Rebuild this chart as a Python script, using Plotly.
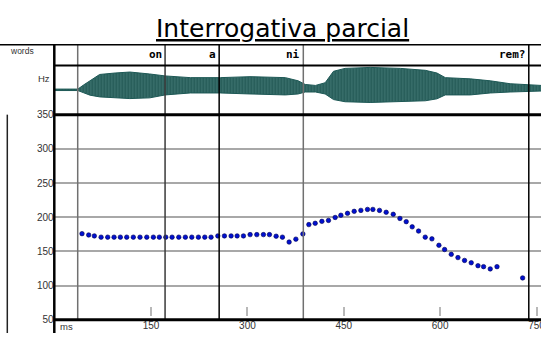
import plotly.graph_objects as go

W, H = 541, 338

# ---------------- data ----------------
pitch_ms = [42.5, 52.9, 61.7, 72.2, 82.5, 92.4, 102.2, 112.1, 122.4, 132.8, 143.3, 153.6,
            162.9, 172.9, 182.7, 193.1, 203.4, 213.4, 223.7, 233.6, 243.4, 253.9, 264.2,
            274.6, 284.0, 293.8, 304.2, 314.6, 324.9, 334.3, 344.7, 354.5, 364.9, 375.4,
            386.3, 395.6, 405.5, 415.9, 426.2, 436.6, 445.5, 455.8, 466.2, 476.6, 486.9,
            495.3, 505.6, 516.0, 527.0, 537.4, 547.2, 556.5, 566.4, 576.8, 587.2, 598.1,
            606.9, 617.3, 627.7, 638.0, 648.4, 658.9, 667.6, 678.0, 688.5, 728.4]
pitch_hz = [176.0, 174.1, 172.7, 170.9, 170.9, 170.9, 170.9, 170.9, 170.9, 170.9, 170.9,
            170.9, 170.9, 170.9, 170.9, 170.9, 170.9, 170.9, 170.9, 170.9, 170.9, 172.7,
            172.7, 172.7, 172.7, 172.7, 174.6, 174.6, 174.6, 174.6, 172.3, 170.9, 163.7,
            168.0, 175.6, 189.3, 191.2, 194.0, 195.4, 199.7, 203.0, 205.8, 208.7, 210.1,
            211.5, 211.5, 210.1, 207.3, 204.4, 198.3, 193.6, 186.0, 179.8, 170.9, 168.4,
            159.0, 152.8, 145.7, 141.0, 136.8, 133.4, 129.1, 127.7, 124.4, 127.7, 111.2]

# waveform envelope (normalised amplitude)
wave_ms = [0, 36, 45, 55, 70, 94, 117, 148, 172, 211, 258, 304, 359, 379, 390, 406, 421,
           434, 452, 491, 538, 577, 595, 608, 647, 678, 709, 757]
wave_up = [0.03, 0.03, 0.20, 0.37, 0.63, 0.69, 0.73, 0.65, 0.57, 0.50, 0.50, 0.54, 0.50,
           0.37, 0.22, 0.18, 0.29, 0.76, 0.88, 0.92, 0.88, 0.80, 0.69, 0.50, 0.45, 0.37,
           0.25, 0.18]
wave_lo = [-0.03, -0.03, -0.12, -0.22, -0.29, -0.33, -0.36, -0.33, -0.21, -0.13, -0.13,
           -0.17, -0.21, -0.17, -0.09, -0.09, -0.17, -0.40, -0.49, -0.52, -0.49, -0.45,
           -0.37, -0.21, -0.21, -0.13, -0.09, -0.05]

boundaries = [35.8, 171.8, 256.0, 387.0, 738.0]
boundary_colors = ["#707070", "#3a3a3a", "#000000", "#707070", "#000000"]
words = ["on", "a", "ni", "rem?"]

x_ticks = [150, 300, 450, 600, 750]
x_tick_labels = ["150", "300", "450", "600", "750"]
y_ticks = [50, 100, 150, 200, 250, 300, 350]

title = "Interrogativa parcial"


def px(x):
    return x / W


def py(y):
    return (H - y) / H


fig = go.Figure()

# waveform
fig.add_trace(go.Scatter(x=wave_ms, y=wave_lo, xaxis="x", yaxis="y2", mode="lines",
                         line=dict(width=1, color="#1d5855"), showlegend=False,
                         hoverinfo="skip"))
fig.add_trace(go.Scatter(x=wave_ms, y=wave_up, xaxis="x", yaxis="y2", mode="lines",
                         line=dict(width=1, color="#1d5855"), fill="tonexty",
                         fillcolor="#0f4f4c",
                         fillpattern=dict(shape="|", fgcolor="#063a37", bgcolor="#417874",
                                          size=3, solidity=0.6),
                         showlegend=False, hoverinfo="skip"))

# pitch points
fig.add_trace(go.Scatter(x=pitch_ms, y=pitch_hz, xaxis="x", yaxis="y", mode="markers",
                         marker=dict(size=4.5, color="#0010d0",
                                     line=dict(width=0.6, color="#000050")),
                         showlegend=False, hoverinfo="skip"))

# x tick labels as clipped text (last label is cut by the right edge)
fig.add_trace(go.Scatter(x=x_ticks, y=[0] * len(x_ticks), xaxis="x", yaxis="y3",
                         mode="text", text=x_tick_labels, cliponaxis=True,
                         textfont=dict(family="Liberation Sans", size=10, color="#333"),
                         textposition="middle center", showlegend=False,
                         hoverinfo="skip"))

# dummy for tick-mark overlay axis
fig.add_trace(go.Scatter(x=[None], y=[None], xaxis="x2", yaxis="y", showlegend=False,
                         hoverinfo="skip"))

shapes = []
# segment boundaries
for b, c in zip(boundaries, boundary_colors):
    shapes.append(dict(type="line", xref="x", yref="paper", x0=b, x1=b,
                       y0=py(324), y1=py(41), line=dict(color=c, width=1.5), layer="above"))

# frame lines
frame = [
    (0, 41, W, 41, 1.5, "#000"),
    (54, 62.3, W, 62.3, 2, "#000"),
    (54, 113.2, W, 113.2, 3, "#000"),
    (54, 324.3, W, 324.3, 3, "#000"),
    (54.3, 41, 54.3, H, 2.5, "#000"),
    (7.3, 113, 7.3, H, 1.5, "#222"),
]
for x0, y0, x1, y1, w, c in frame:
    shapes.append(dict(type="line", xref="paper", yref="paper", x0=px(x0), x1=px(x1),
                       y0=py(y0), y1=py(y1), line=dict(color=c, width=w), layer="above"))

annotations = []
for i, wd in enumerate(words):
    annotations.append(dict(text="<b>" + wd + "</b>", xref="x", yref="paper",
                            x=boundaries[i + 1] - 1.5, y=py(51.5), xanchor="right",
                            yanchor="middle", showarrow=False,
                            font=dict(family="DejaVu Sans Mono", size=11, color="#000")))

annotations += [
    dict(text="words", xref="paper", yref="paper", x=px(8), y=py(47), xanchor="left",
         yanchor="middle", showarrow=False,
         font=dict(family="Liberation Sans", size=8.5, color="#333")),
    dict(text="Hz", xref="paper", yref="paper", x=px(51.5), y=py(76), xanchor="right",
         yanchor="middle", showarrow=False,
         font=dict(family="Liberation Sans", size=9.5, color="#333")),
    dict(text="ms", xref="paper", yref="paper", x=px(58), y=py(331.5), xanchor="left",
         yanchor="middle", showarrow=False,
         font=dict(family="Liberation Sans", size=9.5, color="#333")),
    dict(text="<u>" + title + "</u>", xref="paper", yref="paper", x=px(282), y=py(24),
         xanchor="center", yanchor="middle", showarrow=False,
         font=dict(family="DejaVu Sans", size=25, color="#000")),
]

fig.update_layout(
    width=W, height=H, margin=dict(l=0, r=0, t=0, b=0),
    paper_bgcolor="white", plot_bgcolor="white",
    shapes=shapes, annotations=annotations,
    xaxis=dict(domain=[px(54.7), 1], range=[0, 757], tickvals=x_ticks, ticks="",
               showticklabels=False, showgrid=False, zeroline=False, showline=False,
               anchor="y"),
    xaxis2=dict(overlaying="x", matches="x", anchor="free", position=py(320),
                tickvals=x_ticks, ticks="inside", ticklen=9, tickwidth=1.5,
                tickcolor="#b8b8b8", showticklabels=False, showgrid=False,
                zeroline=False, showline=False, side="bottom"),
    yaxis=dict(domain=[py(324.3), py(113.2)], range=[50, 350], tickvals=y_ticks,
               ticks="", showgrid=True, gridcolor="#a8a8a8", gridwidth=1.5,
               zeroline=False, showline=False, anchor="x",
               tickfont=dict(family="Liberation Sans", size=10, color="#333")),
    yaxis2=dict(domain=[py(112.5), py(62.3)], range=[-1, 1], visible=False, anchor="x"),
    yaxis3=dict(domain=[0, py(325.5)], range=[-1, 1], visible=False, anchor="x"),
)

fig.write_html("out.html")
